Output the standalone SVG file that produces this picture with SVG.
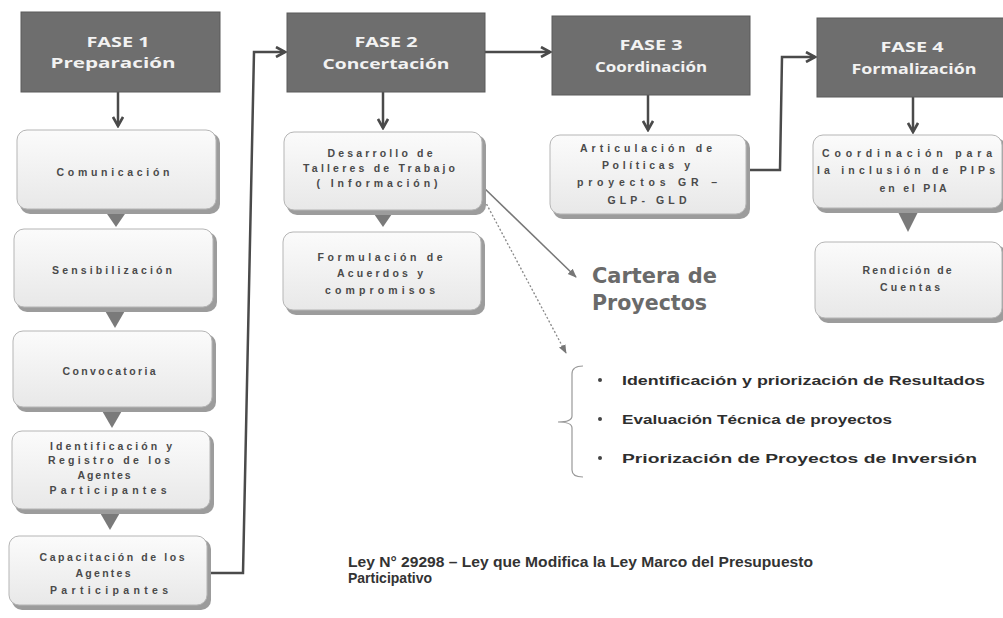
<svg xmlns="http://www.w3.org/2000/svg" width="1003" height="618" viewBox="0 0 1003 618">
<defs>
<style>
.fase{fill:#6e6e6e;stroke:#5a5a5a;stroke-width:1}
.ft{font-family:"Open Sans","Liberation Sans",sans-serif;font-weight:bold;fill:#f2f2f2;font-size:14px;text-anchor:middle}
.sh{fill:#9c9c9c}
.bx{fill:url(#g);stroke:#b5b5b5;stroke-width:1}
.bt{font-family:"Liberation Sans",sans-serif;font-weight:bold;fill:#4a4a4a;font-size:10.5px;text-anchor:middle}
.tri{fill:#7a7a7a}
.con{fill:none;stroke:#4a4a4a;stroke-width:2.5}
.bul{font-family:"Liberation Sans",sans-serif;font-weight:bold;fill:#2e2e2e;font-size:13.5px}
.car{font-family:"DejaVu Sans","Liberation Sans",sans-serif;font-weight:bold;fill:#6a6a6a;font-size:22px}
.ley{font-family:"Liberation Sans",sans-serif;font-weight:bold;fill:#333;font-size:14px}
</style>
<linearGradient id="g" x1="0" y1="0" x2="0" y2="1">
<stop offset="0" stop-color="#fbfbfb"/>
<stop offset="1" stop-color="#e8e8e8"/>
</linearGradient>
<marker id="v" viewBox="0 0 12 12" refX="10" refY="6" markerWidth="12" markerHeight="12" markerUnits="userSpaceOnUse" orient="auto">
<path d="M1,1 L10,6 L1,11" fill="none" stroke="#4a4a4a" stroke-width="2.6"/>
</marker>
<marker id="sa" viewBox="0 0 10 10" refX="9" refY="5" markerWidth="9" markerHeight="9" markerUnits="userSpaceOnUse" orient="auto">
<path d="M0,1 L10,5 L0,9 Z" fill="#777"/>
</marker>
</defs>
<rect width="1003" height="618" fill="#ffffff"/>

<g id="connectors">
<line class="con" x1="118" y1="92" x2="118" y2="126" marker-end="url(#v)"/>
<line class="con" x1="383" y1="92" x2="383" y2="128" marker-end="url(#v)"/>
<line class="con" x1="648" y1="95" x2="648" y2="130" marker-end="url(#v)"/>
<line class="con" x1="913" y1="97" x2="913" y2="132" marker-end="url(#v)"/>
<line class="con" x1="485" y1="52" x2="550" y2="52" marker-end="url(#v)"/>
<polyline class="con" points="210,573 243,573 254,52 285,52" marker-end="url(#v)"/>
<polyline class="con" points="747,170 780,170 782,57 815,57" marker-end="url(#v)"/>
<line x1="481" y1="185" x2="576" y2="277" stroke="#777" stroke-width="1.5" marker-end="url(#sa)"/>
<line x1="479" y1="190" x2="566" y2="353" stroke="#888" stroke-width="1.3" stroke-dasharray="2,2" marker-end="url(#sa)"/>
<polygon class="tri" points="105,211 127,211 116,227"/>
<polygon class="tri" points="104,309 126,309 115,328"/>
<polygon class="tri" points="101,409 123,409 112,428"/>
<polygon class="tri" points="99,511 121,511 110,530"/>
<polygon class="tri" points="372,211 394,211 383,227"/>
<polygon class="tri" points="897,210 919,210 908,232"/>
</g>

<g id="fase1">
<rect class="fase" x="21" y="12" width="199" height="80"/>
<text class="ft" x="118" y="47" textLength="63" lengthAdjust="spacingAndGlyphs">FASE 1</text>
<text class="ft" x="113" y="68" textLength="125" lengthAdjust="spacingAndGlyphs">Preparación</text>
</g>
<g id="fase2">
<rect class="fase" x="287" y="13" width="198" height="79"/>
<text class="ft" x="386" y="47" textLength="63" lengthAdjust="spacingAndGlyphs">FASE 2</text>
<text class="ft" x="386" y="69" textLength="127" lengthAdjust="spacingAndGlyphs">Concertación</text>
</g>
<g id="fase3">
<rect class="fase" x="552" y="16" width="198" height="79"/>
<text class="ft" x="651" y="50" textLength="63" lengthAdjust="spacingAndGlyphs">FASE 3</text>
<text class="ft" x="651" y="72" textLength="112" lengthAdjust="spacingAndGlyphs">Coordinación</text>
</g>
<g id="fase4">
<rect class="fase" x="817" y="18" width="190" height="79"/>
<text class="ft" x="912" y="52" textLength="63" lengthAdjust="spacingAndGlyphs">FASE 4</text>
<text class="ft" x="914" y="74" textLength="125" lengthAdjust="spacingAndGlyphs">Formalización</text>
</g>

<g id="comunicacion">
<rect class="sh" x="20" y="133" width="200" height="81" rx="10"/>
<rect class="bx" x="17" y="130" width="199" height="79" rx="10"/>
<text class="bt" x="113" y="176" textLength="113" lengthAdjust="spacing">Comunicación</text>
</g>
<g id="sensibilizacion">
<rect class="sh" x="17" y="232" width="200" height="80" rx="10"/>
<rect class="bx" x="14" y="229" width="199" height="78" rx="10"/>
<text class="bt" x="112" y="274" textLength="120" lengthAdjust="spacing">Sensibilización</text>
</g>
<g id="convocatoria">
<rect class="sh" x="16" y="334" width="200" height="78" rx="10"/>
<rect class="bx" x="13" y="331" width="199" height="76" rx="10"/>
<text class="bt" x="109" y="375" textLength="93" lengthAdjust="spacing">Convocatoria</text>
</g>
<g id="identificacion">
<rect class="sh" x="15" y="434" width="199" height="80" rx="10"/>
<rect class="bx" x="12" y="431" width="198" height="78" rx="10"/>
<text class="bt" x="111" y="450" textLength="122" lengthAdjust="spacing">Identificación y</text>
<text class="bt" x="109" y="464" textLength="122" lengthAdjust="spacing">Registro de los</text>
<text class="bt" x="104" y="479" textLength="53" lengthAdjust="spacing">Agentes</text>
<text class="bt" x="108" y="494" textLength="117" lengthAdjust="spacing">Participantes</text>
</g>
<g id="capacitacion">
<rect class="sh" x="12" y="539" width="199" height="71" rx="10"/>
<rect class="bx" x="9" y="536" width="198" height="69" rx="10"/>
<text class="bt" x="112" y="561" textLength="145" lengthAdjust="spacing">Capacitación de los</text>
<text class="bt" x="103" y="577" textLength="55" lengthAdjust="spacing">Agentes</text>
<text class="bt" x="109" y="594" textLength="118" lengthAdjust="spacing">Participantes</text>
</g>

<g id="desarrollo">
<rect class="sh" x="287" y="135" width="199" height="80" rx="10"/>
<rect class="bx" x="284" y="132" width="198" height="78" rx="10"/>
<text class="bt" x="380" y="157" textLength="105" lengthAdjust="spacing">Desarrollo de</text>
<text class="bt" x="379" y="172" textLength="152" lengthAdjust="spacing">Talleres de Trabajo</text>
<text class="bt" x="377" y="187" textLength="121" lengthAdjust="spacing">( Información)</text>
</g>
<g id="formulacion">
<rect class="sh" x="286" y="235" width="199" height="80" rx="10"/>
<rect class="bx" x="283" y="232" width="198" height="78" rx="10"/>
<text class="bt" x="380" y="261" textLength="125" lengthAdjust="spacing">Formulación de</text>
<text class="bt" x="380" y="277" textLength="86" lengthAdjust="spacing">Acuerdos y</text>
<text class="bt" x="380" y="294" textLength="110" lengthAdjust="spacing">compromisos</text>
</g>
<g id="articulacion">
<rect class="sh" x="553" y="138" width="197" height="81" rx="10"/>
<rect class="bx" x="550" y="135" width="196" height="79" rx="10"/>
<text class="bt" x="646" y="152" textLength="132" lengthAdjust="spacing">Articulación de</text>
<text class="bt" x="646" y="169" textLength="88" lengthAdjust="spacing">Políticas y</text>
<text class="bt" x="647" y="186" textLength="140" lengthAdjust="spacing">proyectos GR –</text>
<text class="bt" x="647" y="204" textLength="79" lengthAdjust="spacing">GLP- GLD</text>
</g>
<g id="coordinacion">
<rect class="sh" x="816" y="138" width="190" height="75" rx="10"/>
<rect class="bx" x="813" y="135" width="189" height="73" rx="10"/>
<text class="bt" x="907" y="157" textLength="170" lengthAdjust="spacing">Coordinación para</text>
<text class="bt" x="906" y="174" textLength="178" lengthAdjust="spacing">la inclusión de PIPs</text>
<text class="bt" x="913" y="192" textLength="67" lengthAdjust="spacing">en el PIA</text>
</g>
<g id="rendicion">
<rect class="sh" x="818" y="245" width="188" height="78" rx="10"/>
<rect class="bx" x="815" y="242" width="187" height="76" rx="10"/>
<text class="bt" x="907" y="274" textLength="89" lengthAdjust="spacing">Rendición de</text>
<text class="bt" x="910" y="291" textLength="60" lengthAdjust="spacing">Cuentas</text>
</g>

<g id="cartera">
<text class="car" x="592" y="283" textLength="125" lengthAdjust="spacingAndGlyphs">Cartera de</text>
<text class="car" x="592" y="310" textLength="115" lengthAdjust="spacingAndGlyphs">Proyectos</text>
</g>

<g id="lista">
<path d="M583,366 Q572,366 572,374 L572,416 Q572,422 558,422 Q572,422 572,428 L572,470 Q572,477 583,477" fill="none" stroke="#999" stroke-width="1.2"/>
<circle cx="600" cy="380" r="2" fill="#444"/>
<circle cx="600" cy="419" r="2" fill="#444"/>
<circle cx="600" cy="458" r="2" fill="#444"/>
<text class="bul" x="622" y="385" textLength="363" lengthAdjust="spacingAndGlyphs">Identificación  y priorización de Resultados</text>
<text class="bul" x="622" y="424" textLength="270" lengthAdjust="spacingAndGlyphs">Evaluación Técnica de proyectos</text>
<text class="bul" x="622" y="463" textLength="355" lengthAdjust="spacingAndGlyphs">Priorización de Proyectos de Inversión</text>
</g>

<g id="ley">
<text class="ley" x="348" y="567" textLength="465" lengthAdjust="spacingAndGlyphs">Ley N° 29298 – Ley que Modifica la Ley Marco del Presupuesto</text>
<text class="ley" x="348" y="583">Participativo</text>
</g>
</svg>
